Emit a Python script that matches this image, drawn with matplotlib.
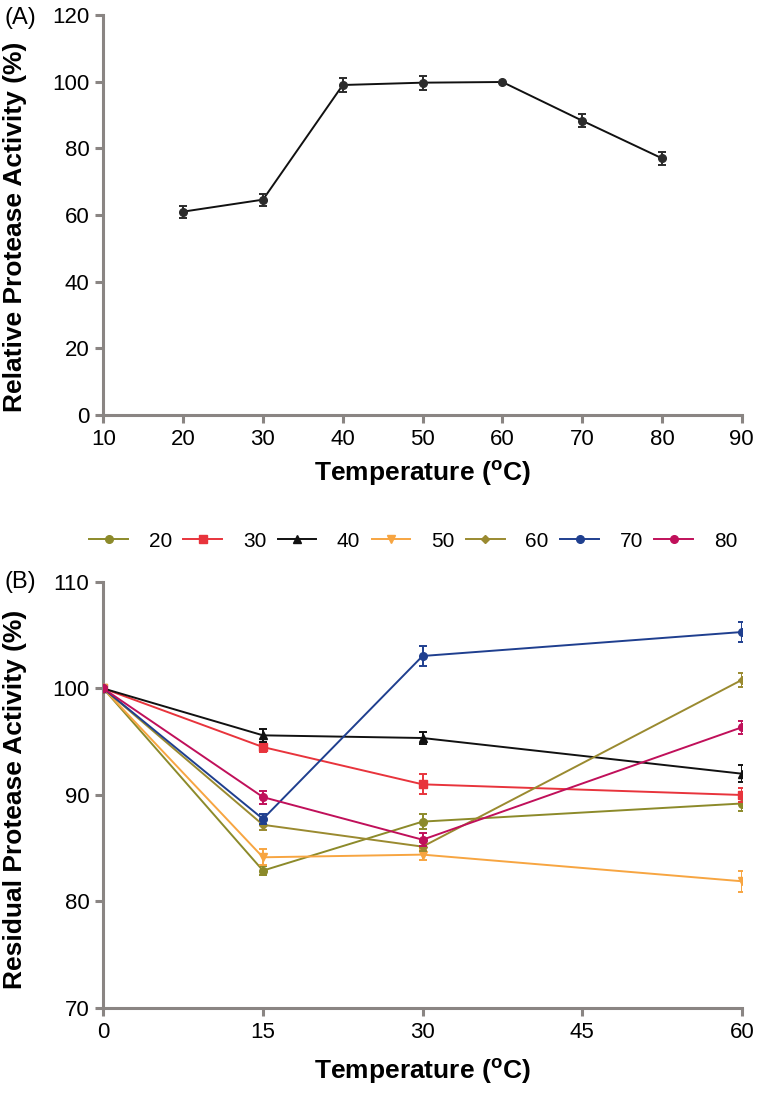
import numpy as np
import matplotlib.pyplot as plt

# ---------------------------------------------------------------
# Data
# ---------------------------------------------------------------
# (A) optimum temperature
temp_a = [20, 30, 40, 50, 60, 70, 80]
activity_a = [61.0, 64.6, 99.0, 99.7, 99.9, 88.3, 77.0]
err_a = [1.8, 1.8, 2.1, 2.1, 0.0, 2.0, 1.9]

# (B) thermal stability, incubation time points
time_b = [0, 15, 30, 60]
series_labels = ["20", "30", "40", "50", "60", "70", "80"]
res_20 = [100, 82.9, 87.5, 89.2]
res_30 = [100, 94.5, 91.0, 90.0]
res_40 = [100, 95.6, 95.35, 92.0]
res_50 = [100, 84.15, 84.4, 81.9]
res_60 = [100, 87.2, 85.15, 100.8]
res_70 = [100, 87.75, 103.05, 105.3]
res_80 = [100, 89.8, 85.8, 96.35]
err_20 = [0, 0.45, 0.7, 0.7]
err_30 = [0, 0.45, 0.95, 0.65]
err_40 = [0, 0.6, 0.6, 0.8]
err_50 = [0, 0.75, 0.5, 1.0]
err_60 = [0, 0.45, 0.4, 0.7]
err_70 = [0, 0.5, 0.9, 0.9]
err_80 = [0, 0.6, 0.6, 0.6]

values_b = [res_20, res_30, res_40, res_50, res_60, res_70, res_80]
errors_b = [err_20, err_30, err_40, err_50, err_60, err_70, err_80]
colors_b = ["#8c8a2a", "#e8343c", "#111111", "#f7a541", "#9a8a30", "#1f3f8f", "#c0105a"]
markers_b = ["o", "s", "^", "v", "D", "o", "o"]
msizes_b = [5.5, 5.5, 5.5, 5.5, 4.5, 5.5, 5.5]

# ---------------------------------------------------------------
# Style
# ---------------------------------------------------------------
plt.rcParams["font.family"] = ["Liberation Sans", "DejaVu Sans"]
plt.rcParams["mathtext.fontset"] = "custom"
plt.rcParams["mathtext.rm"] = "Liberation Sans"
plt.rcParams["mathtext.bf"] = "Liberation Sans:bold"

spine_col = "#8a8583"
xlabel_txt = r"Temperature ($\mathbf{^{o}}$C)"


def style_axes(ax):
    for side in ["top", "right"]:
        ax.spines[side].set_visible(False)
    for side in ["left", "bottom"]:
        ax.spines[side].set_color(spine_col)
        ax.spines[side].set_linewidth(2.2)
    ax.tick_params(direction="out", length=6, width=2.2, color=spine_col,
                   labelsize=16, pad=4)


fig = plt.figure(figsize=(7.6, 10.96), dpi=100)

# ---------------- (A) ----------------
ax1 = fig.add_axes([0.136, 0.6214, 0.840, 0.3649])
ax1.plot(temp_a, activity_a, color="#111111", lw=1.4, marker="o", ms=5.5,
         mfc="#2b2b2b", mec="#2b2b2b", zorder=3)
ax1.errorbar(temp_a, activity_a, yerr=err_a, fmt="none", ecolor="#2b2b2b",
             elinewidth=1.4, capsize=3, capthick=1.4, zorder=3)
ax1.set_xlim(10, 90)
ax1.set_ylim(0, 120)
ax1.set_xticks(np.arange(10, 91, 10))
ax1.set_yticks(np.arange(0, 121, 20))
style_axes(ax1)
ax1.set_xlabel(xlabel_txt, fontsize=19, fontweight="bold")
ax1.set_ylabel("Relative Protease Activity (%)", fontsize=19, fontweight="bold")
ax1.xaxis.set_label_coords(0.5, -0.11)
ax1.yaxis.set_label_coords(-0.12, 0.47)
fig.text(0.006, 0.984, "(A)", fontsize=17, va="center", ha="left")

# ---------------- (B) ----------------
ax2 = fig.add_axes([0.136, 0.0803, 0.840, 0.3887])
handles = []
for lab, vals, errs, col, mk, ms in zip(series_labels, values_b, errors_b,
                                        colors_b, markers_b, msizes_b):
    line, = ax2.plot(time_b, vals, color=col, lw=1.4, marker=mk, ms=ms,
                     mfc=col, mec=col, label=lab, zorder=3)
    ax2.errorbar(time_b, vals, yerr=errs, fmt="none", ecolor=col,
                 elinewidth=1.4, capsize=3, capthick=1.4, zorder=3)
    handles.append(line)
ax2.set_xlim(0, 60)
ax2.set_ylim(70, 110)
ax2.set_xticks([0, 15, 30, 45, 60])
ax2.set_yticks([70, 80, 90, 100, 110])
style_axes(ax2)
ax2.set_xlabel(xlabel_txt, fontsize=19, fontweight="bold")
ax2.set_ylabel("Residual Protease Activity (%)", fontsize=19, fontweight="bold")
ax2.xaxis.set_label_coords(0.5, -0.115)
ax2.yaxis.set_label_coords(-0.12, 0.49)
fig.text(0.006, 0.469, "(B)", fontsize=17, va="center", ha="left")

ax2.legend(handles=handles, ncol=7, frameon=False, fontsize=15,
           loc="center left", bbox_to_anchor=(-0.022, 1.096), handlelength=1.85,
           handletextpad=1.0, columnspacing=0.55, numpoints=1,
           borderaxespad=0, borderpad=0)

fig.savefig("out.png", dpi=100)
